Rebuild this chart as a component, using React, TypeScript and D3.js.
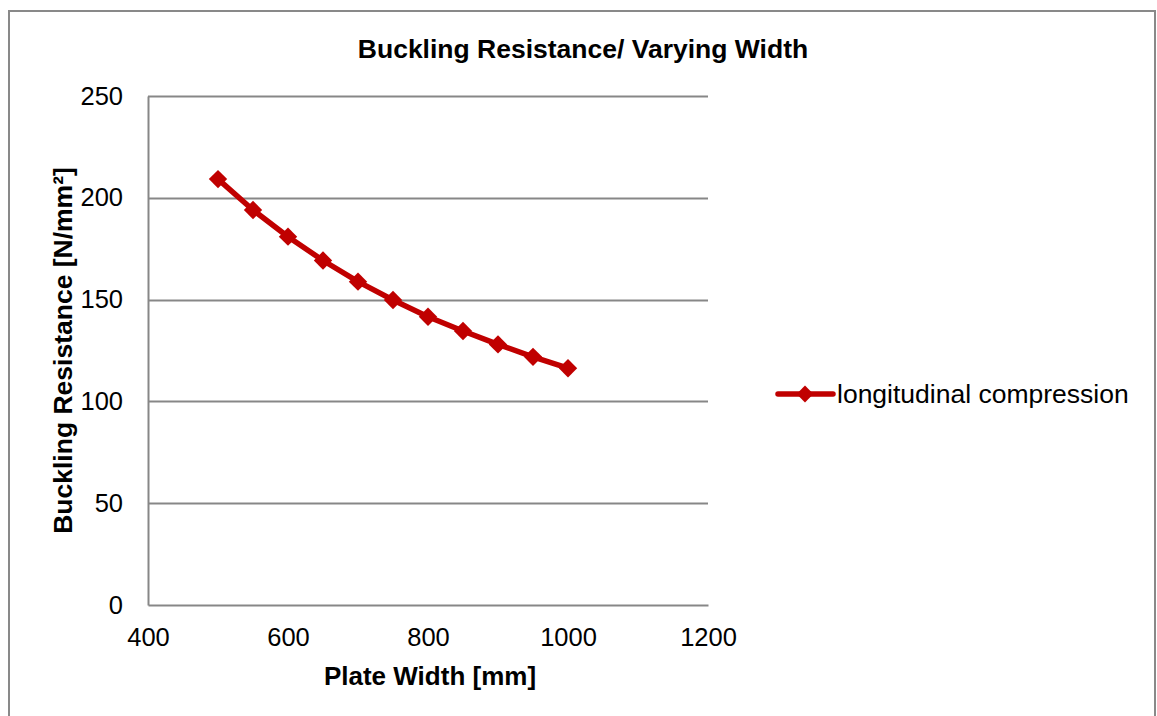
import React, { useEffect, useRef } from 'react'
import * as d3 from 'd3'

// plate width [mm] and buckling resistance [N/mm²]
const plateWidths = [500, 550, 600, 650, 700, 750, 800, 850, 900, 950, 1000]
const resistance = [209.2, 194.0, 180.9, 169.2, 158.8, 149.8, 141.6, 134.6, 128.0, 121.9, 116.3]
const xTicks = [400, 600, 800, 1000, 1200]
const yTicks = [0, 50, 100, 150, 200, 250]
const seriesName = 'longitudinal compression'

const W = 1157
const H = 716
const RED = '#C00000'
const FONT = '"Liberation Sans", Arial, sans-serif'

const App = () => {
    const ref = useRef<SVGSVGElement>(null)

    useEffect(() => {
        const svg = d3.select(ref.current)
        svg.selectAll('*').remove()

        const margin = { top: 96, left: 148, right: 449, bottom: 111 }
        const x = d3.scaleLinear().domain([400, 1200]).range([margin.left, W - margin.right])
        const y = d3.scaleLinear().domain([0, 250]).range([H - margin.bottom, margin.top])

        svg.append('rect').attr('width', W).attr('height', H).attr('fill', '#fff')
        // outer chart border
        svg.append('rect')
            .attr('x', 9).attr('y', 11)
            .attr('width', 1146).attr('height', 720)
            .attr('fill', 'none')
            .attr('stroke', '#898989')
            .attr('stroke-width', 2)

        svg.append('text')
            .attr('x', 583).attr('y', 58)
            .attr('text-anchor', 'middle')
            .style('font', `bold 26.5px ${FONT}`)
            .text('Buckling Resistance/ Varying Width')

        // gridlines
        svg.append('g').selectAll('line')
            .data(yTicks.filter(d => d > 0))
            .enter().append('line')
            .attr('x1', x(400)).attr('x2', x(1200))
            .attr('y1', d => Math.round(y(d)) + 0.5).attr('y2', d => Math.round(y(d)) + 0.5)
            .attr('stroke', '#878787').attr('stroke-width', 2)

        // axes
        const yAxis = svg.append('g')
            .attr('transform', `translate(${x(400)},0)`)
            .call(d3.axisLeft(y).tickValues(yTicks).tickSize(0).tickPadding(25))
        yAxis.select('.domain').attr('stroke', '#878787').attr('stroke-width', 2)
        yAxis.selectAll('text').style('font', `25.5px ${FONT}`).attr('fill', '#000')

        const xAxis = svg.append('g')
            .attr('transform', `translate(0,${y(0)})`)
            .call(d3.axisBottom(x).tickValues(xTicks).tickSize(0).tickPadding(23).tickFormat(d3.format('d')))
        xAxis.select('.domain').attr('stroke', '#878787').attr('stroke-width', 2)
        xAxis.selectAll('text').style('font', `25.5px ${FONT}`).attr('fill', '#000')

        svg.append('text')
            .attr('x', 430).attr('y', 685)
            .attr('text-anchor', 'middle')
            .style('font', `bold 26px ${FONT}`)
            .text('Plate Width [mm]')

        svg.append('text')
            .attr('transform', `translate(72,${y(125)}) rotate(-90)`)
            .attr('text-anchor', 'middle')
            .style('font', `bold 26.5px ${FONT}`)
            .text('Buckling Resistance [N/mm²]')

        const data = plateWidths.map((w, i) => ({ w, v: resistance[i] }))
        const line = d3.line<{ w: number, v: number }>().x(d => x(d.w)).y(d => y(d.v))

        svg.append('path')
            .datum(data)
            .attr('d', line)
            .attr('fill', 'none')
            .attr('stroke', RED)
            .attr('stroke-width', 5.5)
            .attr('stroke-linejoin', 'round')

        const diamond = d3.symbol().type(d3.symbolDiamond2).size(215)
        svg.append('g').selectAll('path')
            .data(data)
            .enter().append('path')
            .attr('d', diamond)
            .attr('transform', d => `translate(${x(d.w)},${y(d.v)})`)
            .attr('fill', RED)

        // legend
        const lg = svg.append('g').attr('transform', 'translate(778,394)')
        lg.append('line')
            .attr('x1', 0).attr('x2', 55)
            .attr('stroke', RED).attr('stroke-width', 5.5).attr('stroke-linecap', 'round')
        lg.append('path')
            .attr('d', d3.symbol().type(d3.symbolDiamond2).size(180))
            .attr('transform', 'translate(27,0)')
            .attr('fill', RED)
        lg.append('text')
            .attr('x', 59).attr('y', 9)
            .style('font', `26.5px ${FONT}`)
            .text(seriesName)
    }, [])

    return (
        <div style={{ position: 'absolute', left: 0, top: 0, width: W, height: H, overflow: 'hidden' }}>
            <svg ref={ref} width={W} height={H} />
        </div>
    )
}

export default App
